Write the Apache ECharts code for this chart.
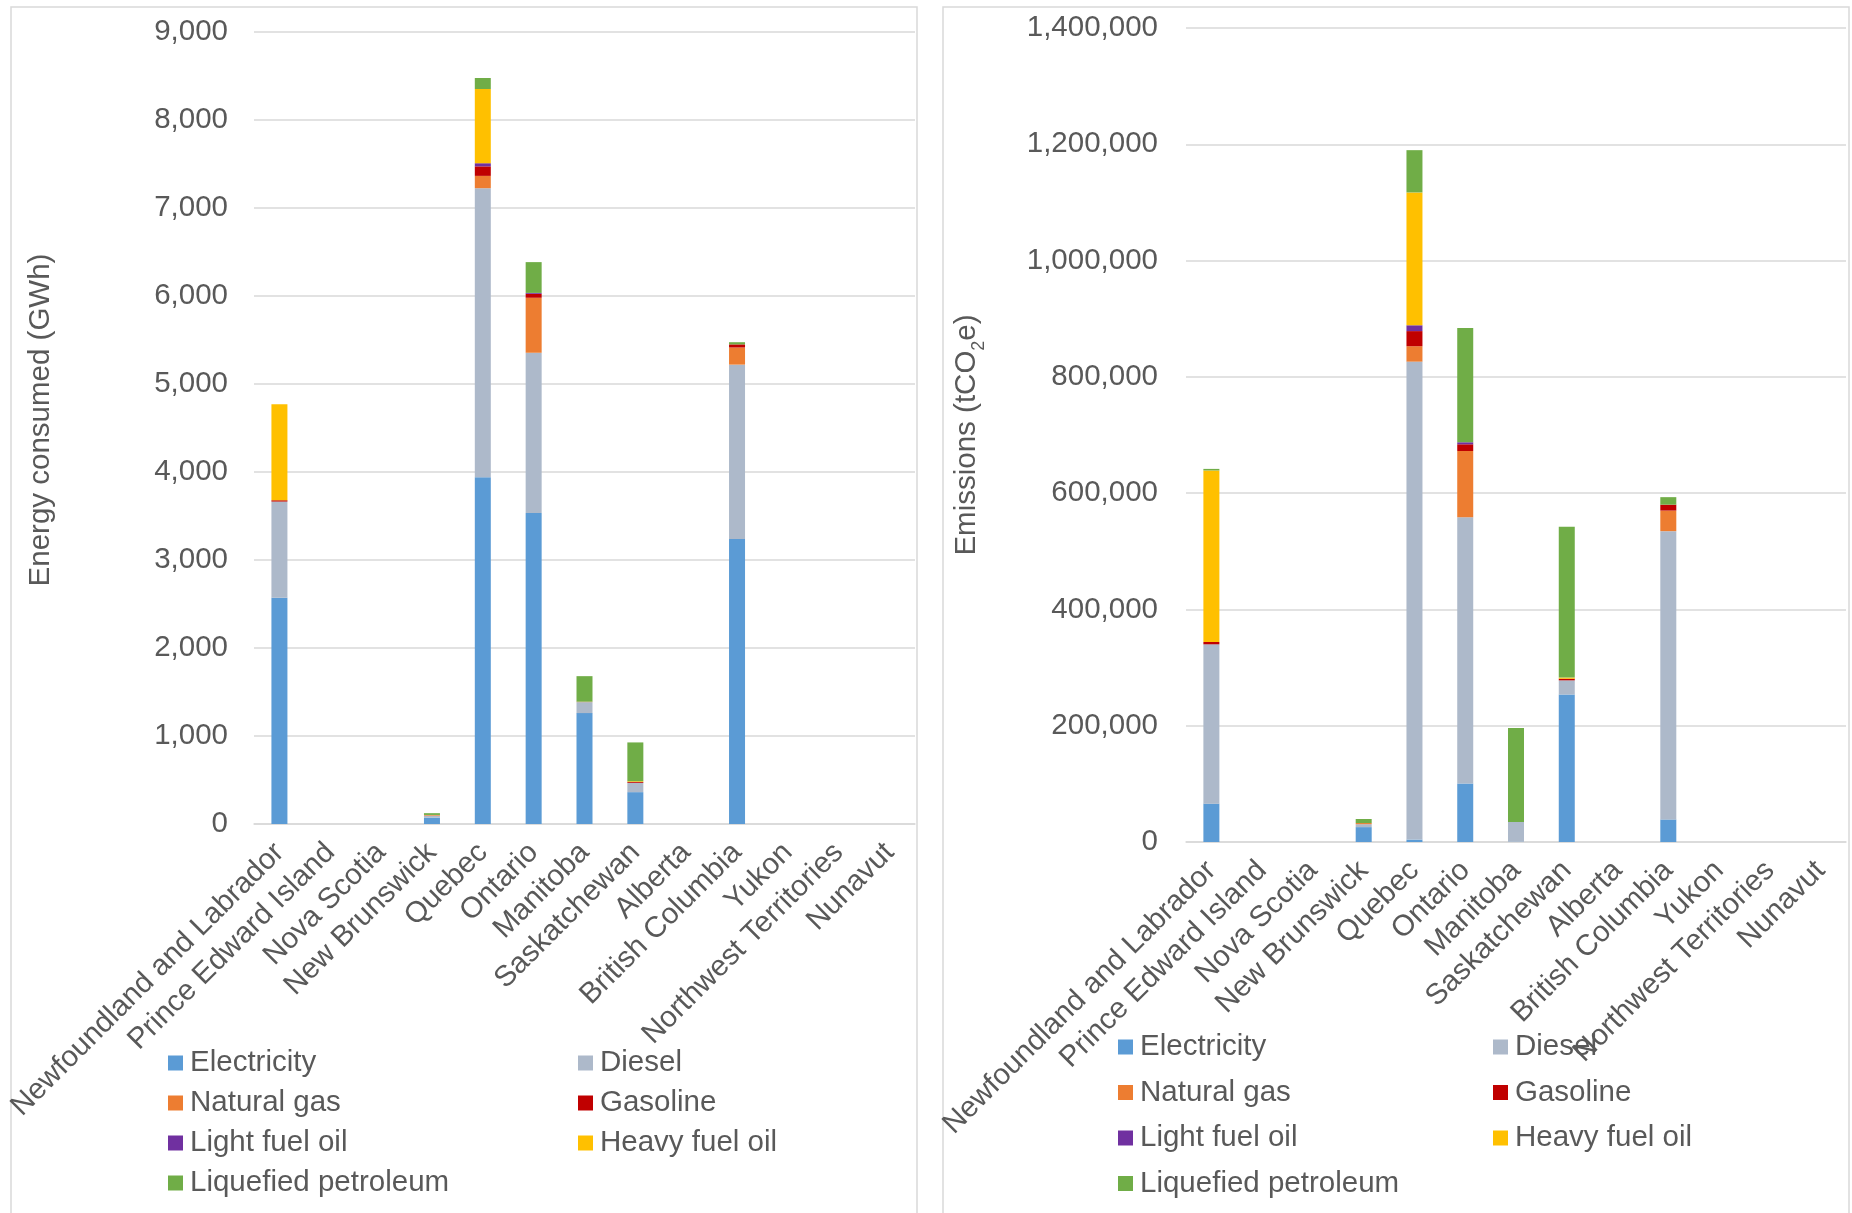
<!DOCTYPE html>
<html>
<head>
<meta charset="utf-8">
<script src="https://cdn.jsdelivr.net/npm/echarts@6/dist/echarts.min.js"></script>
<style>
	html, body { margin: 0; padding: 0; background: #fff; }
	#main { width: 1852px; height: 1213px; }
</style>
</head>
<body>
<div id="main"></div>
<script>
	var provinces = ['Newfoundland and Labrador', 'Prince Edward Island', 'Nova Scotia', 'New Brunswick', 'Quebec', 'Ontario',
		'Manitoba', 'Saskatchewan', 'Alberta', 'British Columbia', 'Yukon', 'Northwest Territories', 'Nunavut'];

	var fuels = ['Electricity', 'Diesel', 'Natural gas', 'Gasoline', 'Light fuel oil', 'Heavy fuel oil', 'Liquefied petroleum'];
	var fuelColors = ['#5b9bd5', '#adb9ca', '#ed7d31', '#c00000', '#7030a0', '#ffc000', '#70ad47'];

	// energy consumed, GWh
	var energyElectricity = [2570, 0, 0, 73, 3940, 3535, 1260, 362, 0, 3240, 0, 0, 0];
	var energyDiesel      = [1094, 0, 0, 22, 3285, 1820, 125, 106, 0, 1980, 0, 0, 0];
	var energyNaturalGas  = [0, 0, 0, 8, 140, 625, 5, 0, 0, 195, 0, 0, 0];
	var energyGasoline    = [15, 0, 0, 0, 108, 45, 0, 10, 0, 35, 0, 0, 0];
	var energyLightOil    = [0, 0, 0, 0, 36, 10, 0, 0, 0, 0, 0, 0, 0];
	var energyHeavyOil    = [1091, 0, 0, 0, 843, 0, 0, 8, 0, 0, 0, 0, 0];
	var energyLpg         = [0, 0, 0, 20, 125, 350, 290, 441, 0, 25, 0, 0, 0];

	// emissions, tCO2e
	var emisElectricity = [66000, 0, 0, 25600, 4200, 100500, 500, 253700, 0, 38800, 0, 0, 0];
	var emisDiesel      = [274000, 0, 0, 5000, 822000, 458000, 34000, 24300, 0, 495800, 0, 0, 0];
	var emisNaturalGas  = [0, 0, 0, 2000, 26500, 114000, 0, 0, 0, 35400, 0, 0, 0];
	var emisGasoline    = [4000, 0, 0, 0, 26000, 11500, 0, 2800, 0, 10200, 0, 0, 0];
	var emisLightOil    = [0, 0, 0, 0, 10000, 3500, 0, 0, 0, 0, 0, 0, 0];
	var emisHeavyOil    = [295000, 0, 0, 0, 228500, 0, 0, 2000, 0, 0, 0, 0, 0];
	var emisLpg         = [2700, 0, 0, 7000, 72700, 196500, 161500, 259200, 0, 12900, 0, 0, 0];

	var energySets = [energyElectricity, energyDiesel, energyNaturalGas, energyGasoline, energyLightOil, energyHeavyOil, energyLpg];
	var emisSets = [emisElectricity, emisDiesel, emisNaturalGas, emisGasoline, emisLightOil, emisHeavyOil, emisLpg];

	var FONT = '"Liberation Sans", Arial, sans-serif';
	var FS = 29.5;
	var TEXT = '#595959';
	var LINE = '#d9d9d9';

	var commas = function(v){
		return String(v).replace(/\B(?=(\d{3})+(?!\d))/g, ',');
	}

	var buildSeries = function(sets, idx, stack){
		var result = [];
		for(var i = 0, j = fuels.length; i < j; i++){
			result.push({
				name: fuels[i],
				type: 'bar',
				stack: stack,
				xAxisIndex: idx,
				yAxisIndex: idx,
				barWidth: 16,
				itemStyle: { color: fuelColors[i] },
				data: sets[i]
			});
		}
		return result;
	}

	var xAxisOf = function(idx){
		return {
			type: 'category',
			gridIndex: idx,
			data: provinces,
			axisTick: { show: false },
			axisLine: { lineStyle: { color: LINE, width: 1.5 } },
			axisLabel: { rotate: 45, interval: 0, margin: 24, color: TEXT, fontSize: FS, fontFamily: FONT }
		};
	}

	// shift: moves the rotated title up along the axis
	var yAxisOf = function(idx, max, step, name, gap, margin, shift){
		return {
			type: 'value',
			gridIndex: idx,
			min: 0, max: max, interval: step,
			name: name,
			nameLocation: 'middle',
			nameGap: gap,
			nameTextStyle: {
				color: TEXT, fontSize: FS, fontFamily: FONT,
				padding: [0, 0, 0, shift],
				rich: {
					a: { color: TEXT, fontSize: FS, fontFamily: FONT },
					s: { color: TEXT, fontSize: 18, fontFamily: FONT, verticalAlign: 'bottom', padding: [0, 0, -6, 0] }
				}
			},
			axisLine: { show: false },
			axisTick: { show: false },
			splitLine: { lineStyle: { color: LINE, width: 1.5 } },
			axisLabel: { color: TEXT, fontSize: FS, fontFamily: FONT, margin: margin, formatter: commas }
		};
	}

	var legendOf = function(names, left, top, gap){
		return {
			data: names,
			orient: 'vertical',
			left: left, top: top,
			padding: 0,
			itemWidth: 15, itemHeight: 15, itemGap: gap,
			icon: 'rect',
			textStyle: { color: TEXT, fontSize: FS, fontFamily: FONT, padding: [0, 0, 0, 2] }
		};
	}

	var colA = [fuels[0], fuels[2], fuels[4], fuels[6]];
	var colB = [fuels[1], fuels[3], fuels[5]];

	var option = {
		animation: false,
		backgroundColor: '#fff',
		graphic: [
			{ type: 'rect', shape: { x: 11, y: 7, width: 906, height: 1230 }, style: { fill: 'none', stroke: LINE, lineWidth: 1.5 }, silent: true },
			{ type: 'rect', shape: { x: 943, y: 7, width: 906, height: 1230 }, style: { fill: 'none', stroke: LINE, lineWidth: 1.5 }, silent: true }
		],
		grid: [
			{ left: 254, top: 32, width: 661, height: 792 },
			{ left: 1186, top: 28, width: 660, height: 814 }
		],
		legend: [
			legendOf(colA, 168, 1048, 10),
			legendOf(colB, 578, 1048, 10),
			legendOf(colA, 1118, 1032, 15.5),
			legendOf(colB, 1493, 1032, 15.5)
		],
		xAxis: [xAxisOf(0), xAxisOf(1)],
		yAxis: [
			yAxisOf(0, 9000, 1000, 'Energy consumed (GWh)', 198, 26, 16),
			yAxisOf(1, 1400000, 200000, '{a|Emissions (tCO}{s|2}{a|e)}', 204, 28, 0)
		],
		series: buildSeries(energySets, 0, 'energy').concat(buildSeries(emisSets, 1, 'emis'))
	};

	var myChart = echarts.init(document.getElementById('main'));
	myChart.setOption(option);
</script>
</body>
</html>
